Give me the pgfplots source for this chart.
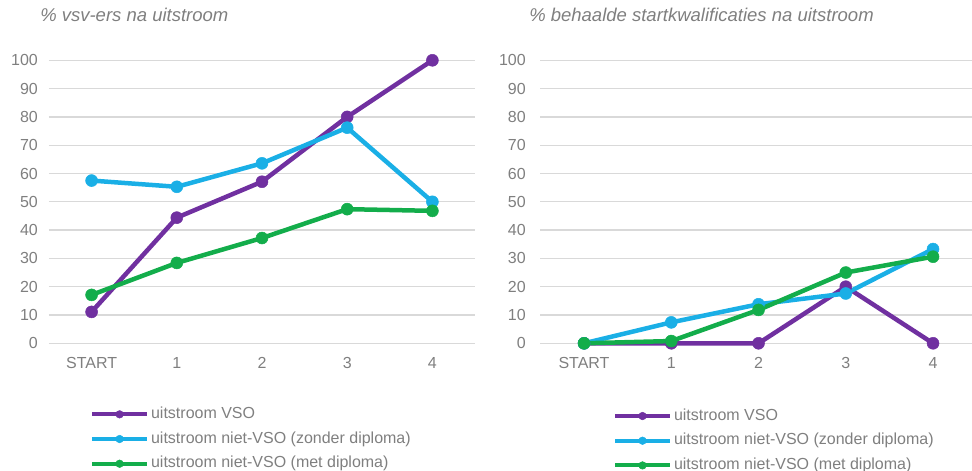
\documentclass[border=0pt]{standalone}
\usepackage{fontspec}
\setmainfont{Liberation Sans}
\usepackage{pgfplots}
\pgfplotsset{compat=1.18}
\definecolor{vso}{HTML}{7030A0}
\definecolor{zonder}{HTML}{1AAFE6}
\definecolor{met}{HTML}{13AD4B}
\definecolor{txt}{HTML}{7F7F7F}
\definecolor{gridc}{HTML}{D9D9D9}

\pgfplotsset{
  uitstroom/.style={
    scale only axis, height=283pt,
    xmin=-0.5, xmax=4.5, ymin=0, ymax=100,
    xtick={0,...,4}, xticklabels={START,1,2,3,4},
    ytick={0,10,...,100},
    ymajorgrids, grid style={draw=gridc, line width=1.3pt},
    axis line style={draw=none}, major tick length=0pt, tick style={draw=none},
    clip=false,
    /pgf/number format/assume math mode=true,
    ticklabel style={font=\fontsize{16}{19}\selectfont, text=txt},
    xticklabel style={inner sep=0pt, yshift=-13.5pt},
    title style={font=\fontsize{18.5}{22}\selectfont\itshape, text=txt, anchor=west, inner sep=0pt},
    legend style={draw=none, fill=none, anchor=north west, inner sep=0pt,
      font=\fontsize{16}{19}\selectfont, text=txt, row sep=8.7pt,
      nodes={inner xsep=2pt, inner ysep=0pt, text height=12pt, text depth=4pt},
      cells={anchor=west}},
    legend image code/.code={
      \draw[mark repeat=2, mark phase=2, #1, line width=4pt, mark size=3.8pt,
            mark options={line width=0.5pt}]
        plot coordinates {(0pt,0pt) (27.5pt,0pt) (55pt,0pt)};},
    every axis plot/.append style={line width=4.5pt, mark=*, mark size=6pt,
      line join=round, mark options={line width=0.5pt}},
  }
}

\begin{document}
\begin{tikzpicture}[x=1pt, y=1pt]
\useasboundingbox (0,0) rectangle (972,471);

% linker grafiek
\begin{axis}[uitstroom, width=426pt, at={(49pt,127.7pt)}, anchor=south west,
  yticklabel style={inner xsep=0pt, xshift=-11pt},
  title={\% vsv-ers na uitstroom}, title style={at={(-0.021,1.139)}},
  legend style={at={(0.096,-0.222)}}]
\addplot[color=vso] coordinates {(0,11.1) (1,44.4) (2,57.1) (3,80) (4,100)};
\addplot[color=zonder] coordinates {(0,57.5) (1,55.3) (2,63.6) (3,76.2) (4,50)};
\addplot[color=met] coordinates {(0,17.1) (1,28.4) (2,37.2) (3,47.4) (4,46.8)};
\legend{uitstroom VSO, uitstroom niet-VSO (zonder diploma), uitstroom niet-VSO (met diploma)}
\end{axis}

% rechter grafiek
\begin{axis}[uitstroom, width=436.25pt, at={(540.4pt,127.7pt)}, anchor=south west,
  yticklabel style={inner xsep=0pt, xshift=-14.5pt},
  title={\% behaalde startkwalificaties na uitstroom}, title style={at={(-0.026,1.139)}},
  legend style={at={(0.166,-0.228)}}]
\addplot[color=vso] coordinates {(0,0) (1,0) (2,0) (3,20) (4,0)};
\addplot[color=zonder] coordinates {(0,0) (1,7.4) (2,13.8) (3,17.6) (4,33.3)};
\addplot[color=met] coordinates {(0,0) (1,0.8) (2,11.8) (3,25) (4,30.6)};
\legend{uitstroom VSO, uitstroom niet-VSO (zonder diploma), uitstroom niet-VSO (met diploma)}
\end{axis}
\end{tikzpicture}
\end{document}
